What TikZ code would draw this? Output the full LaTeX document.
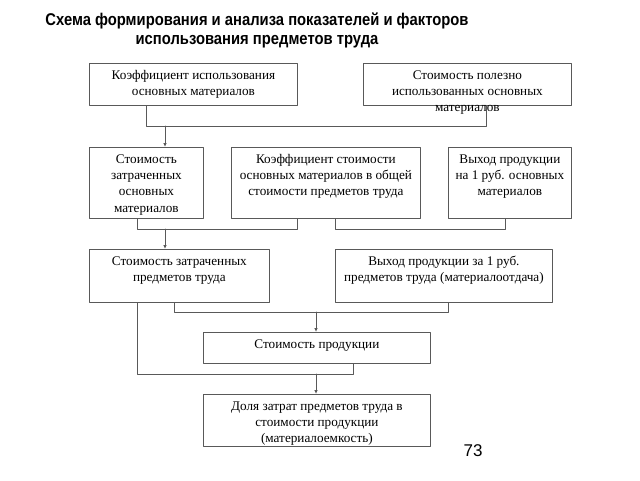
\documentclass[tikz,border=0pt]{standalone}
\usepackage{fontspec}
\setmainfont{Liberation Serif}
\newfontfamily\titlefont{Liberation Sans}
\usetikzlibrary{arrows.meta}
\definecolor{linec}{gray}{0.35}
\newcommand{\blk}[3]{\parbox[c][#2][t]{#1}{\centering\vspace*{4.5pt}\strut #3}}

\begin{document}
\begin{tikzpicture}[line cap=round,line join=round,>={Latex[length=4pt,width=3.5pt]},x=1pt,y=-1pt,
  blk/.style={draw=linec,line width=0.8pt,anchor=north west,inner sep=0pt,
    font=\fontsize{13.2}{16.3}\selectfont},
  conn/.style={draw=linec,line width=0.8pt}]
\fill[white] (0,0) rectangle (640,480);
\useasboundingbox (0,0) rectangle (640,480);
\node[font=\titlefont\bfseries\fontsize{17}{18.5}\selectfont,align=center,
  xscale=0.87,transform shape] (title) at (257,30.5)
  {Схема формирования и анализа показателей и факторов\\использования предметов труда};
\node[blk] (b1) at (89,63) {\blk{208pt}{42pt}{Коэффициент использования\\основных материалов}};
\node[blk] (b2) at (363,63) {\blk{208pt}{42pt}{Стоимость полезно\\использованных основных\\материалов}};
\node[blk] (b3) at (89,147) {\blk{114pt}{71pt}{Стоимость\\затраченных\\основных\\материалов}};
\node[blk] (b4) at (231,147) {\blk{189pt}{71pt}{Коэффициент стоимости\\основных материалов в общей\\стоимости предметов труда}};
\node[blk] (b5) at (448,147) {\blk{123pt}{71pt}{Выход продукции\\на 1 руб. основных\\материалов}};
\node[blk] (b6) at (89,249) {\blk{180pt}{53pt}{Стоимость затраченных\\предметов труда}};
\node[blk] (b7) at (335,249) {\blk{217pt}{53pt}{Выход продукции за 1 руб.\\предметов труда (материалоотдача)}};
\node[blk] (b8) at (203,332) {\blk{227pt}{31pt}{Стоимость продукции}};
\node[blk] (b9) at (203,394) {\blk{227pt}{52pt}{Доля затрат предметов труда в\\стоимости продукции\\(материалоемкость)}};
\node[font=\titlefont\fontsize{17}{20}\selectfont] (page) at (473,451) {73};

\coordinate (k1) at (146,126);
\coordinate (k2) at (486,126);
\coordinate (a1) at (165,126);
\draw[conn] (b1.south -| k1) |- (k2) -- (b2.south -| k2);
\draw[conn,->] (a1) -- (b3.north -| a1);

\coordinate (k3) at (137,229);
\coordinate (k4) at (297,229);
\coordinate (a2) at (165,229);
\draw[conn] (b3.south -| k3) |- (k4) -- (b4.south -| k4);
\draw[conn,->] (a2) -- (b6.north -| a2);

\coordinate (k5) at (335,229);
\coordinate (k6) at (505,229);
\draw[conn] (b4.south -| k5) |- (k6) -- (b5.south -| k6);

\coordinate (k7) at (174,312);
\coordinate (k8) at (448,312);
\coordinate (a3) at (316,312);
\draw[conn] (b6.south -| k7) |- (k8) -- (b7.south -| k8);
\draw[conn,->] (a3) -- (b8.north -| a3);

\coordinate (k9) at (137,374);
\coordinate (k10) at (353,374);
\coordinate (a4) at (316,374);
\draw[conn] (b6.south -| k9) |- (k10) -- (b8.south -| k10);
\draw[conn,->] (a4) -- (b9.north -| a4);
\end{tikzpicture}
\end{document}
